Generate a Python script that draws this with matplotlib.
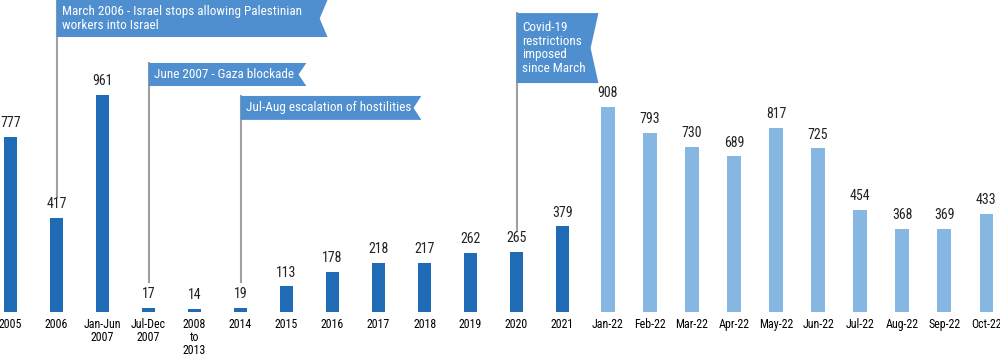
import matplotlib.pyplot as plt
from matplotlib.patches import Polygon

labels = ["2005", "2006", "Jan-Jun\n2007", "Jul-Dec\n2007", "2008\nto\n2013", "2014",
          "2015", "2016", "2017", "2018", "2019", "2020", "2021",
          "Jan-22", "Feb-22", "Mar-22", "Apr-22", "May-22", "Jun-22",
          "Jul-22", "Aug-22", "Sep-22", "Oct-22"]
values = [777, 417, 961, 17, 14, 19, 113, 178, 218, 217, 262, 265, 379,
          908, 793, 730, 689, 817, 725, 454, 368, 369, 433]
n_yearly = 13

# annotations: (bar index, text, box top, box bottom, box width, line end)
notes = [
    (1, "March 2006 - Israel stops allowing Palestinian\nworkers into Israel", 1382, 1218, 5.89, 510),
    (3, "June 2007 - Gaza blockade", 1103, 1001, 3.43, 135),
    (5, "Jul-Aug escalation of hostilities", 957, 851, 3.93, 135),
    (11, "Covid-19\nrestrictions\nimposed\nsince March", 1324, 1014, 1.78, 360),
]

dark = "#1f6bb5"
light = "#86b6e2"
flag = "#4f8fcf"
fam = ["Roboto Condensed", "Liberation Sans Narrow", "Roboto", "DejaVu Sans"]
plt.rcParams['font.family'] = fam

fig = plt.figure(figsize=(10, 3.56), dpi=100)
ax = fig.add_axes([0, 44 / 356, 1, 312 / 356])

# yearly bars a bit wider apart than the monthly ones
x = [i if i < n_yearly else 12.98 + (i - n_yearly) * 0.915 for i in range(len(values))]
colors = [dark] * n_yearly + [light] * (len(values) - n_yearly)
ax.bar(x, values, width=0.30, color=colors, zorder=2)
for xi, v in zip(x, values):
    ax.text(xi, v + 30, str(v), ha="center", va="bottom", fontsize=10, color="#222222")

for i, txt, top, bot, w, yend in notes:
    xi = x[i]
    ax.plot([xi, xi], [yend, top], color="#a0a0a0", lw=1.5, zorder=1)
    notch = 0.17
    mid = (top + bot) / 2
    poly = Polygon([[xi, top], [xi + w, top], [xi + w - notch, mid], [xi + w, bot], [xi, bot]],
                   closed=True, facecolor=flag, edgecolor="none", zorder=3)
    ax.add_patch(poly)
    ax.text(xi + 0.12, mid, txt, ha="left", va="center", fontsize=9.5, color="white",
            linespacing=1.05, zorder=4)

ax.set_xlim(-0.23, 21.51)
ax.set_ylim(0, 1382)
ax.set_xticks(x)
ax.set_xticklabels(labels, fontsize=8.6, linespacing=1.0)
ax.tick_params(axis="x", length=0, pad=4)
ax.set_yticks([])
for s in ax.spines.values():
    s.set_visible(False)

fig.savefig("out.png", dpi=100)
